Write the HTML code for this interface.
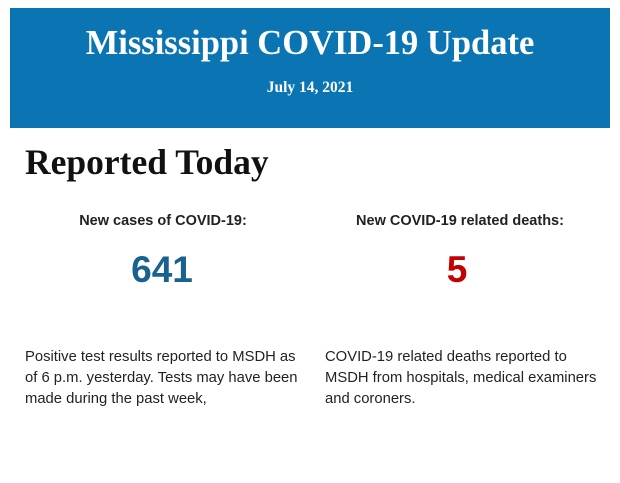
<!DOCTYPE html>
<html><head><meta charset="utf-8"><style>
body{margin:0;width:620px;height:483px;background:#fff;position:relative;overflow:hidden;font-family:"Liberation Sans",Arial,sans-serif}
.hd{position:absolute;left:10px;top:8px;width:600px;height:120px;background:#0a75b2;color:#fff;text-align:center;font-family:"Liberation Serif",serif;font-weight:bold}
.t{position:absolute;left:0;right:0;top:15px;font-size:34.5px;line-height:40px}
.d{position:absolute;left:0;right:0;top:71px;font-size:15.5px}
.rt{position:absolute;left:25px;top:141px;font-family:"Liberation Serif",serif;font-weight:bold;font-size:35.5px;color:#111}
.sh{position:absolute;top:213px;width:300px;text-align:center;font-weight:bold;font-size:14.5px;color:#222}
.n{position:absolute;top:249px;width:300px;text-align:center;font-weight:bold;font-size:37px;line-height:42px}
.p{position:absolute;top:347px;width:275px;font-size:14.8px;line-height:21px;color:#222}
</style></head><body>
<div class="hd"><div class="t">Mississippi COVID-19 Update</div><div class="d">July 14, 2021</div></div>
<div class="rt">Reported Today</div>
<div class="sh" style="left:13px">New cases of COVID-19:</div>
<div class="sh" style="left:310px">New COVID-19 related deaths:</div>
<div class="n" style="left:12px;color:#19628f">641</div>
<div class="n" style="left:307px;color:#c40000">5</div>
<div class="p" style="left:25px">Positive test results reported to MSDH as of 6 p.m. yesterday. Tests may have been made during the past week,</div>
<div class="p" style="left:325px">COVID-19 related deaths reported to MSDH from hospitals, medical examiners and coroners.</div>
</body></html>
